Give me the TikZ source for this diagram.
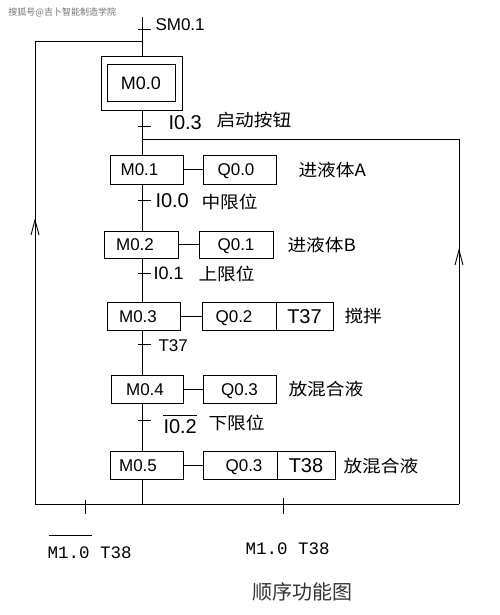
\documentclass[tikz,border=0pt]{standalone}
\usepackage{graphicx}
\usepackage{fontspec}
\setmainfont{Liberation Sans}
\newfontfamily\cjk{Noto Sans CJK SC}
\newfontfamily\monof{Liberation Mono}
\newcommand{\cnw}[1]{\scalebox{1.1}[1]{#1}}
\begin{document}
\begin{tikzpicture}[x=1pt,y=-1pt,line width=1pt,
  stepbox/.style={draw, inner sep=0pt, text height=12.5pt, text depth=0pt, font=\fontsize{17}{17}\selectfont},
  lbl/.style={anchor=west, inner sep=0pt, font=\fontsize{18}{18}\selectfont},
  cn/.style={anchor=west, inner sep=0pt, font=\cjk\fontsize{17}{17}\selectfont},
  bot/.style={anchor=west, inner sep=0pt, font=\monof\fontsize{17.5}{17.5}\selectfont},
  tick/.style={line width=1pt}]
\useasboundingbox (0,0) rectangle (499,615);
\fill[white] (0,0) rectangle (499,615);

% watermark
\node[anchor=west, inner sep=0pt, text=black!55, font=\cjk\fontsize{9}{9}\selectfont] (wm) at (8,12) {搜狐号@吉卜智能制造学院};

% initial step
\node[draw, inner sep=0pt, minimum width=81pt, minimum height=54pt] (init) at (141.5,84) {};
\node[stepbox, minimum width=68pt, minimum height=37pt, text height=13pt, font=\fontsize{18}{18}\selectfont] (initin) at (141,83.5) {M0.0};

% steps
\node[stepbox, minimum width=73pt, minimum height=29pt] (m1) at (146.5,169.5) {M0.1\hspace*{14pt}};
\node[stepbox, minimum width=73pt, minimum height=29pt] (q0) at (239.5,169.5) {Q0.0\hspace*{7pt}};
\node[stepbox, minimum width=74pt, minimum height=27pt] (m2) at (141,244.5) {M0.2\hspace*{12pt}};
\node[stepbox, minimum width=74pt, minimum height=27pt] (q1) at (236,244.5) {Q0.1};
\node[stepbox, minimum width=73pt, minimum height=28pt] (m3) at (143.5,316) {M0.3\hspace*{11pt}};
\node[stepbox, minimum width=74pt, minimum height=28pt] (q2) at (239,316) {Q0.2\hspace*{10pt}};
\node[stepbox, minimum width=57pt, minimum height=28pt, text height=14pt, font=\fontsize{20}{20}\selectfont] (t37) at (304.5,316) {T37};
\node[stepbox, minimum width=72pt, minimum height=28pt] (m4) at (147,389) {M0.4\hspace*{4pt}};
\node[stepbox, minimum width=73pt, minimum height=28pt] (q3) at (239.5,389) {Q0.3};
\node[stepbox, minimum width=73pt, minimum height=28pt] (m5) at (146.5,465) {M0.5\hspace*{17pt}};
\node[stepbox, minimum width=74pt, minimum height=28pt] (q4) at (240,465) {\hspace*{8pt}Q0.3};
\node[stepbox, minimum width=58pt, minimum height=28pt, text height=14pt, font=\fontsize{20}{20}\selectfont] (t38) at (306,465) {T38};

% main line coordinates
\coordinate (top) at (142,17);
\coordinate (bot) at (142,504);
\coordinate (ll) at (35,504);
\coordinate (lt) at (35,42);
\coordinate (rt) at (459,139);
\coordinate (rb) at (459,504);

% main vertical line segments
\draw (top) -- (top |- init.north);
\draw (top |- init.south) -- (top |- m1.north);
\draw (top |- m1.south) -- (top |- m2.north);
\draw (top |- m2.south) -- (top |- m3.north);
\draw (top |- m3.south) -- (top |- m4.north);
\draw (top |- m4.south) -- (top |- m5.north);
\draw (top |- m5.south) -- (bot);

% action links
\draw (m1.east) -- (q0.west);
\draw (m2.east) -- (q1.west);
\draw (m3.east) -- (q2.west);
\draw (m4.east) -- (q3.west);
\draw (m5.east) -- (q4.west);

% loops
\draw (ll) -- (rb);
\draw (ll) -- (lt) -- (top |- lt);
\draw (top |- rt) -- (rt) -- (rb);

% arrows on loops
\draw[line width=0.9pt] (31,235) -- (35,220) -- (39,235);
\draw[line width=0.9pt] (455,265) -- (459,250) -- (463,265);

% transition ticks
\foreach \yy in {30,126,200,273,344,420} {
  \draw[tick] (137.5,\yy) -- (150.5,\yy);
}
\draw[tick] (85,500) -- (85,514);
\draw[tick] (283,498) -- (283,514);

% labels
\node[lbl, font=\fontsize{17}{17}\selectfont] (sm) at (155,25) {SM0.1};
\node[lbl, font=\fontsize{20}{20}\selectfont] (i03) at (168,123) {I0.3};
\node[cn] (qd) at (216,120) {\cnw{启动按钮}};
\node[cn] (jA) at (298,170) {\cnw{进液体A}};
\node[lbl, font=\fontsize{20}{20}\selectfont] (i00) at (155,201) {I0.0};
\node[cn] (zx) at (201,202) {\cnw{中限位}};
\node[cn] (jB) at (287,245) {\cnw{进液体B}};
\node[lbl] (i01) at (153,273) {I0.1};
\node[cn] (sx) at (198,274) {\cnw{上限位}};
\node[cn] (jb) at (344,316) {\cnw{搅拌}};
\node[lbl, font=\fontsize{17}{17}\selectfont] (tt) at (158,346) {T37};
\node[cn] (fh1) at (288,389) {\cnw{放混合液}};
\node[lbl, font=\fontsize{20}{20}\selectfont] (i02) at (163,427) {I0.2};
\draw[line width=0.9pt] ([yshift=4pt]i02.north west) -- ([yshift=4pt]i02.north east);
\node[cn] (xx) at (208,423) {\cnw{下限位}};
\node[cn] (fh2) at (343,466) {\cnw{放混合液}};

% bottom labels
\node[bot] (bl) at (47,553) {M1.0 T38};
\draw[line width=0.9pt] (49,535) -- (92,535);
\node[bot] (br) at (245,549) {M1.0 T38};
\node[anchor=center, inner sep=0pt, font=\cjk\fontsize{20}{20}\selectfont, text=black!80] (title) at (302,592) {顺序功能图};
\end{tikzpicture}
\end{document}
